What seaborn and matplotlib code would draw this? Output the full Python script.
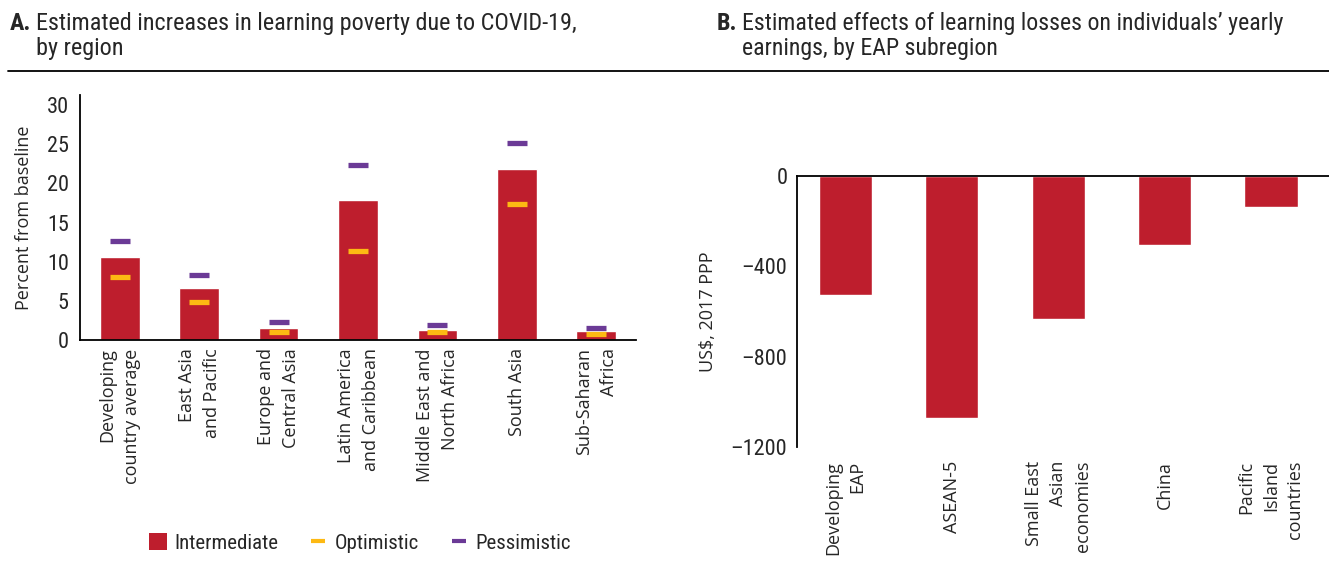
import numpy as np
import pandas as pd
import matplotlib
matplotlib.use("Agg")
import matplotlib.pyplot as plt
import seaborn as sns
from matplotlib import font_manager as fm
from matplotlib.lines import Line2D
from matplotlib.patches import Patch

# panel A data
regions = ["Developing\ncountry average", "East Asia\nand Pacific", "Europe and\nCentral Asia",
           "Latin America\nand Caribbean", "Middle East and\nNorth Africa", "South Asia",
           "Sub-Saharan\nAfrica"]
intermediate = [10.6, 6.7, 1.5, 17.9, 1.3, 21.8, 1.1]
optimistic = [8.0, 4.8, 1.0, 11.4, 1.0, 17.4, 0.8]
pessimistic = [12.6, 8.3, 2.3, 22.3, 1.9, 25.2, 1.5]

# panel B data
subregions = ["Developing\nEAP", "ASEAN-5", "Small East\nAsian\neconomies", "China",
              "Pacific\nIsland\ncountries"]
earnings = [-527, -1070, -632, -306, -137]

RED = "#BE1E2D"
YELLOW = "#FDB913"
PURPLE = "#6B3A96"
WIDE = ["Open Sans", "DejaVu Sans"]

# look for a condensed sans face; fall back to smaller DejaVu Sans
def find_face(bold):
    want = 700 if bold else 400
    found = []
    for f in fm.fontManager.ttflist:
        narrow = ("Narrow" in f.name or "Condensed" in f.name
                  or f.stretch in ("condensed", "semi-condensed"))
        w = f.weight if isinstance(f.weight, int) else (700 if "bold" in str(f.weight) else 400)
        if narrow and f.style == "normal" and w == want and "Mono" not in f.name \
                and "Serif" not in f.name:
            found.append(f)
    order = ["Liberation Sans Narrow", "Roboto Condensed", "Open Sans Condensed", "DejaVu Sans"]
    found.sort(key=lambda f: order.index(f.name) if f.name in order else 99)
    return found[0].fname if found else None

reg_path = find_face(False)
bold_path = find_face(True) or reg_path
if reg_path:
    def nf(size, bold=False):
        return fm.FontProperties(fname=bold_path if bold else reg_path, size=size)
    k = 1.0
else:
    def nf(size, bold=False):
        return fm.FontProperties(family="DejaVu Sans", size=size,
                                 weight="bold" if bold else "normal")
    k = 0.85

sns.set_style("white")
plt.rcParams["font.family"] = WIDE

df_a = pd.DataFrame({"region": regions, "intermediate": intermediate,
                     "optimistic": optimistic, "pessimistic": pessimistic})
df_b = pd.DataFrame({"subregion": subregions, "earnings": earnings})

fig = plt.figure(figsize=(13.29, 5.67), dpi=100)
ax1 = fig.add_axes([0.0602, 0.4003, 0.4184, 0.4322])
ax2 = fig.add_axes([0.5997, 0.2116, 0.4003, 0.4780])

# --- panel A
sns.barplot(data=df_a, x="region", y="intermediate", color=RED, width=0.5,
            saturation=1, ax=ax1)
sns.scatterplot(data=df_a, x="region", y="optimistic", marker="_", s=210,
                linewidth=3.8, color=YELLOW, ax=ax1, zorder=3)
sns.scatterplot(data=df_a, x="region", y="pessimistic", marker="_", s=210,
                linewidth=3.8, color=PURPLE, ax=ax1, zorder=3)
ax1.set_xlim(-0.5, 6.5)
ax1.set_ylim(0, 31.3)
ax1.set_yticks([0, 5, 10, 15, 20, 25, 30])
ax1.set_xlabel("")
ax1.set_ylabel("Percent from baseline", fontsize=13, labelpad=10)
for s in ["top", "right"]:
    ax1.spines[s].set_visible(False)
for s in ["left", "bottom"]:
    ax1.spines[s].set_color("black")
    ax1.spines[s].set_linewidth(1.3)
ax1.tick_params(axis="y", length=0, pad=8)
ax1.tick_params(axis="x", length=0, pad=6)
for t in ax1.get_yticklabels():
    t.set_fontproperties(nf(16 * k))
ax1.set_xticks(range(len(regions)))
ax1.set_xticklabels(regions, rotation=90, ha="center", va="top", multialignment="right",
                    fontsize=13, linespacing=1.5)

# --- panel B
sns.barplot(data=df_b, x="subregion", y="earnings", color=RED, width=0.5,
            saturation=1, ax=ax2)
ax2.set_xlim(-0.455, 4.545)
ax2.set_ylim(-1200, 0)
ax2.set_yticks([0, -400, -800, -1200])
ax2.set_yticklabels(["0", "\u2013400", "\u2013800", "\u20131200"])
ax2.set_xlabel("")
ax2.set_ylabel("US$, 2017 PPP", fontsize=13, labelpad=10)
for s in ["bottom", "right"]:
    ax2.spines[s].set_visible(False)
for s in ["left", "top"]:
    ax2.spines[s].set_color("black")
    ax2.spines[s].set_linewidth(1.3)
ax2.tick_params(axis="y", length=0, pad=7)
ax2.tick_params(axis="x", length=0, pad=10)
for t in ax2.get_yticklabels():
    t.set_fontproperties(nf(16 * k))
ax2.set_xticks(range(len(subregions)))
ax2.set_xticklabels(subregions, rotation=90, ha="center", va="top", multialignment="right",
                    fontsize=13, linespacing=1.45)

# --- titles and rule
ty = 1 - 12 / 567
fig.text(10 / 1329, ty, "A.", fontproperties=nf(17.4 * k, True), va="top")
fig.text(36 / 1329, ty, "Estimated increases in learning poverty due to COVID-19,\nby region",
         fontproperties=nf(17.4 * k), va="top", linespacing=1.12)
fig.text(717 / 1329, ty, "B.", fontproperties=nf(17.4 * k, True), va="top")
fig.text(742 / 1329, ty, "Estimated effects of learning losses on individuals\u2019 yearly\nearnings, by EAP subregion",
         fontproperties=nf(17.2 * k), va="top", linespacing=1.12)
fig.add_artist(Line2D([8 / 1329, 1], [1 - 71 / 567, 1 - 71 / 567], color="black", lw=1.3))

# --- legend
handles = [Patch(facecolor=RED, edgecolor="none"),
           Line2D([], [], ls="none", marker="_", markersize=9.5, mew=3, color=YELLOW),
           Line2D([], [], ls="none", marker="_", markersize=9.5, mew=3, color=PURPLE)]
fig.legend(handles, ["Intermediate", "Optimistic", "Pessimistic"], loc="center",
           bbox_to_anchor=(360 / 1329, 1 - 543 / 567), ncol=3, frameon=False,
           prop=nf(15 * k), handlelength=0.85, handleheight=0.85, handletextpad=0.35,
           columnspacing=1.5)

fig.savefig("out.png", dpi=100)
